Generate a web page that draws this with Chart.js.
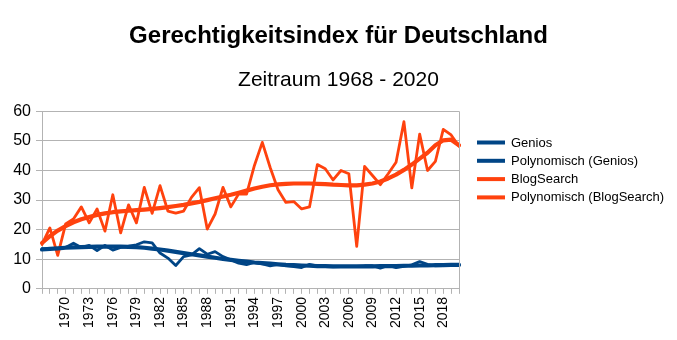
<!DOCTYPE html>
<html>
<head>
  <meta charset="utf-8">
  <title>Gerechtigkeitsindex</title>
  <script src="https://cdn.jsdelivr.net/npm/chart.js@4.4.1/dist/chart.umd.min.js"></script>
  <style>
    body { margin: 0; background: #fff; }
  </style>
</head>
<body>
  <canvas id="chart" width="677" height="340"></canvas>

<script>
  const years = [
    '1967', '1968', '1969', '1970', '1971', '1972', '1973', '1974', '1975', '1976',
    '1977', '1978', '1979', '1980', '1981', '1982', '1983', '1984', '1985', '1986',
    '1987', '1988', '1989', '1990', '1991', '1992', '1993', '1994', '1995', '1996',
    '1997', '1998', '1999', '2000', '2001', '2002', '2003', '2004', '2005', '2006',
    '2007', '2008', '2009', '2010', '2011', '2012', '2013', '2014', '2015', '2016',
    '2017', '2018', '2019', '2020'
  ];

  const genios = [
    13.6, 13.6, 13.6, 14.0, 15.4, 14.0, 14.7, 12.9, 14.7, 13.1,
    14.0, 14.4, 14.9, 15.9, 15.5, 12.1, 10.4, 7.9, 10.9, 11.5,
    13.6, 11.7, 12.6, 10.9, 9.8, 8.7, 8.2, 8.9, 8.4, 7.8,
    8.3, 7.8, 7.5, 7.2, 8.3, 7.8, 7.5, 7.4, 7.5, 7.6,
    7.6, 7.8, 7.8, 7.0, 7.9, 7.2, 7.6, 8.1, 9.2, 8.3,
    7.8, 7.9, 8.0, 8.1
  ];

  const geniosTrend = [
    13.3, 13.5, 13.7, 13.9, 14.0, 14.1, 14.2, 14.3, 14.3, 14.3,
    14.3, 14.2, 14.1, 13.9, 13.6, 13.3, 12.9, 12.5, 12.1, 11.7,
    11.3, 10.9, 10.5, 10.1, 9.8, 9.5, 9.2, 8.9, 8.7, 8.5,
    8.3, 8.1, 8.0, 7.9, 7.8, 7.7, 7.7, 7.6, 7.6, 7.6,
    7.6, 7.6, 7.6, 7.7, 7.7, 7.7, 7.8, 7.8, 7.9, 7.9,
    8.0, 8.0, 8.1, 8.1
  ];

  const blog = [
    15.0, 20.6, 11.3, 21.9, 23.6, 27.7, 22.3, 27.0, 19.5, 31.8,
    18.9, 28.4, 22.3, 34.3, 25.5, 34.9, 26.3, 25.6, 26.3, 30.9,
    34.2, 20.2, 25.3, 34.3, 27.7, 32.1, 32.0, 41.7, 49.5, 41.0,
    33.5, 29.2, 29.5, 27.0, 27.7, 42.0, 40.6, 36.8, 40.0, 38.9,
    14.4, 41.4, 38.3, 35.2, 38.9, 42.8, 56.5, 34.1, 52.3, 40.0,
    43.1, 53.9, 52.0, 48.2
  ];

  const blogTrend = [
    15.5, 17.8, 19.7, 21.2, 22.5, 23.5, 24.3, 25.0, 25.5, 25.9,
    26.2, 26.4, 26.6, 26.8, 27.0, 27.3, 27.6, 28.0, 28.4, 28.9,
    29.4, 30.0, 30.6, 31.2, 31.8, 32.5, 33.2, 33.9, 34.5, 35.0,
    35.3, 35.5, 35.6, 35.6, 35.6, 35.5, 35.4, 35.2, 35.1, 35.0,
    35.0, 35.2, 35.6, 36.3, 37.3, 38.6, 40.2, 42.0, 44.0, 46.0,
    48.5, 50.2, 50.4, 48.5
  ];

  const yTicks = [0, 10, 20, 30, 40, 50, 60];

  const blue = '#004586';
  const orange = '#ff420e';
  const gridColor = '#b3b3b3';

  const fontFamily = '"Liberation Sans", Arial, sans-serif';

  const data = {
    labels: years,
    datasets: [
      { label: 'Genios', data: genios, borderColor: blue, backgroundColor: blue, borderWidth: 2.8 },
      { label: 'Polynomisch (Genios)', data: geniosTrend, borderColor: blue, backgroundColor: blue, borderWidth: 4.2 },
      { label: 'BlogSearch', data: blog, borderColor: orange, backgroundColor: orange, borderWidth: 2.8 },
      { label: 'Polynomisch (BlogSearch)', data: blogTrend, borderColor: orange, backgroundColor: orange, borderWidth: 4.2 },
    ]
  };

  // legend on the right, drawn by hand because the built-in one gets squeezed
  const sideLegend = {
    id: 'sideLegend',
    afterDraw(chart) {
      const c = chart.ctx;
      const area = chart.chartArea;
      const x0 = area.right + 18;
      let y = 142.5;
      c.save();
      // right frame line of the plot
      c.strokeStyle = gridColor;
      c.lineWidth = 1;
      c.beginPath();
      c.moveTo(Math.round(area.right) + 0.5, area.top);
      c.lineTo(Math.round(area.right) + 0.5, area.bottom);
      c.stroke();

      c.font = '13px ' + fontFamily;
      c.textBaseline = 'middle';
      c.textAlign = 'left';
      chart.data.datasets.forEach(ds => {
        c.strokeStyle = ds.borderColor;
        c.lineWidth = 4;
        c.lineCap = 'butt';
        c.beginPath();
        c.moveTo(x0, y);
        c.lineTo(x0 + 28, y);
        c.stroke();
        c.fillStyle = '#000';
        c.fillText(ds.label, x0 + 34, y + 0.5);
        y += 18.3;
      });
      c.restore();
    }
  };

  const options = {
    responsive: false,
    animation: false,
    events: [],
    elements: {
      point: { radius: 0 },
      line: { tension: 0, borderJoinStyle: 'round', borderCapStyle: 'round' }
    },
    layout: {
      padding: { left: 0, right: 0, top: 0, bottom: 9 }
    },
    plugins: {
      title: {
        display: true,
        text: 'Gerechtigkeitsindex für Deutschland',
        color: '#000',
        font: { family: fontFamily, size: 24, weight: 'bold' },
        padding: { top: 21.5, bottom: 8 }
      },
      subtitle: {
        display: true,
        text: 'Zeitraum 1968 - 2020',
        color: '#000',
        font: { family: fontFamily, size: 21 },
        padding: { top: 9, bottom: 18.8 }
      },
      legend: { display: false },
      tooltip: { enabled: false }
    },
    scales: {
      x: {
        offset: false,
        grid: {
          drawOnChartArea: false,
          drawTicks: true,
          tickLength: 5,
          color: gridColor
        },
        border: { color: gridColor },
        ticks: {
          autoSkip: false,
          maxRotation: 90,
          minRotation: 90,
          padding: 3,
          color: '#000',
          font: { family: fontFamily, size: 14 },
          callback(value, index) {
            const y = Number(years[index]);
            return (y >= 1970 && (y - 1970) % 3 === 0) ? years[index] : '';
          }
        }
      },
      y: {
        min: yTicks[0],
        max: yTicks[yTicks.length - 1],
        afterBuildTicks(axis) {
          axis.ticks = yTicks.map(v => ({ value: v }));
        },
        afterFit(axis) {
          axis.width = 42;
        },
        grid: {
          color: gridColor,
          tickLength: 6
        },
        border: { color: gridColor },
        ticks: {
          padding: 5,
          color: '#000',
          font: { family: fontFamily, size: 16 }
        }
      },
      // empty right-hand axis that only reserves room for the legend
      side: {
        position: 'right',
        min: yTicks[0],
        max: yTicks[yTicks.length - 1],
        afterFit(axis) {
          axis.width = 218;
        },
        grid: { display: false },
        border: { display: false },
        ticks: { display: false }
      }
    }
  };

  new Chart(document.getElementById('chart'), {
    type: 'line',
    data: data,
    options: options,
    plugins: [{
      id: 'whiteBg',
      beforeDraw(chart) {
        const c = chart.ctx;
        c.save();
        c.fillStyle = '#fff';
        c.fillRect(0, 0, chart.width, chart.height);
        c.restore();
      }
    }, sideLegend]
  });
</script>
</body>
</html>
